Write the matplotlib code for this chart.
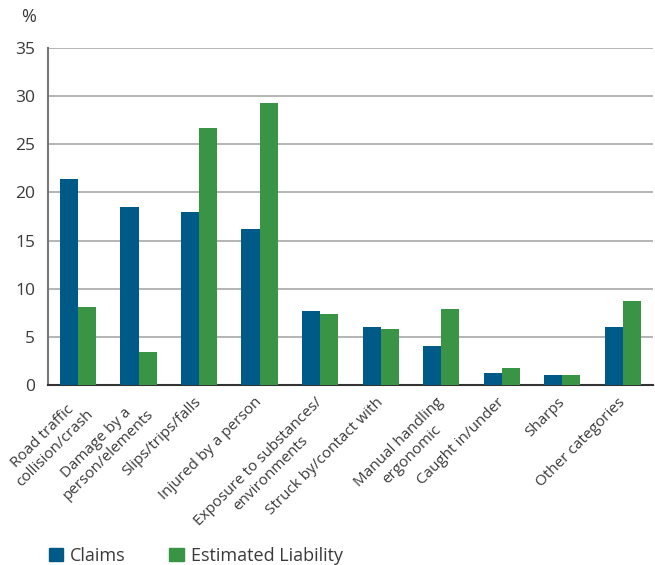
import matplotlib
matplotlib.use('Agg')
import matplotlib.pyplot as plt
import matplotlib.transforms as mtransforms
import numpy as np
from matplotlib.patches import Patch

plt.rcParams['font.family'] = ['Open Sans', 'DejaVu Sans']

# 数据
categories = ['Road traffic\ncollision/crash', 'Damage by a\nperson/elements', 'Slips/trips/falls',
              'Injured by a person', 'Exposure to substances/\nenvironments', 'Struck by/contact with',
              'Manual handling\nergonomic', 'Caught in/under', 'Sharps', 'Other categories']
claims = [21.4, 18.5, 18.0, 16.2, 7.7, 6.0, 4.05, 1.25, 1.05, 6.0]
liability = [8.1, 3.4, 26.7, 29.3, 7.4, 5.8, 7.9, 1.75, 1.05, 8.7]
yticks = [0, 5, 10, 15, 20, 25, 30, 35]

blue = '#005a87'
green = '#3a9446'
text_col = '#3a3a3a'

fig = plt.figure(figsize=(6.55, 5.65), dpi=100)
ax = fig.add_axes([0.073, 0.3186, 0.924, 0.5964])

x = np.arange(len(categories))
w = 0.3
ax.bar(x - w / 2, claims, w, color=blue, zorder=3)
ax.bar(x + w / 2, liability, w, color=green, zorder=3)

ax.set_xlim(-0.5, len(categories) - 0.5)
ax.set_ylim(0, 35)
ax.set_yticks(yticks)
ax.yaxis.grid(True, color='#a8a8a8', lw=1.2, zorder=0)
ax.set_axisbelow(True)

for s in ['top', 'right']:
    ax.spines[s].set_visible(False)
ax.spines['left'].set_color('#777777')
ax.spines['left'].set_linewidth(1.5)
ax.spines['bottom'].set_color('#333333')
ax.spines['bottom'].set_linewidth(1.5)

ax.tick_params(axis='y', length=0, pad=9, labelsize=12.5, labelcolor=text_col)
ax.tick_params(axis='x', length=0, pad=7, labelsize=11, labelcolor=text_col)
ax.set_xticks(x)
ax.set_xticklabels(categories, rotation=45, ha='right', va='top', multialignment='center',
                   rotation_mode='anchor')
# 标签稍微左移
offset = mtransforms.ScaledTranslation(-5 / 100, 0, fig.dpi_scale_trans)
for lab in ax.get_xticklabels():
    lab.set_transform(lab.get_transform() + offset)

fig.text(0.033, 0.97, '%', fontsize=13, color=text_col, va='center')

handles = [Patch(color=blue, label='Claims'), Patch(color=green, label='Estimated Liability')]
fig.legend(handles=handles, loc='lower left', bbox_to_anchor=(0.055, -0.022), ncol=2, frameon=False,
           fontsize=13, labelcolor=text_col, handlelength=0.8, handleheight=0.8,
           handletextpad=0.4, columnspacing=2.4, borderaxespad=0.3)

fig.savefig('out.png', dpi=100)
